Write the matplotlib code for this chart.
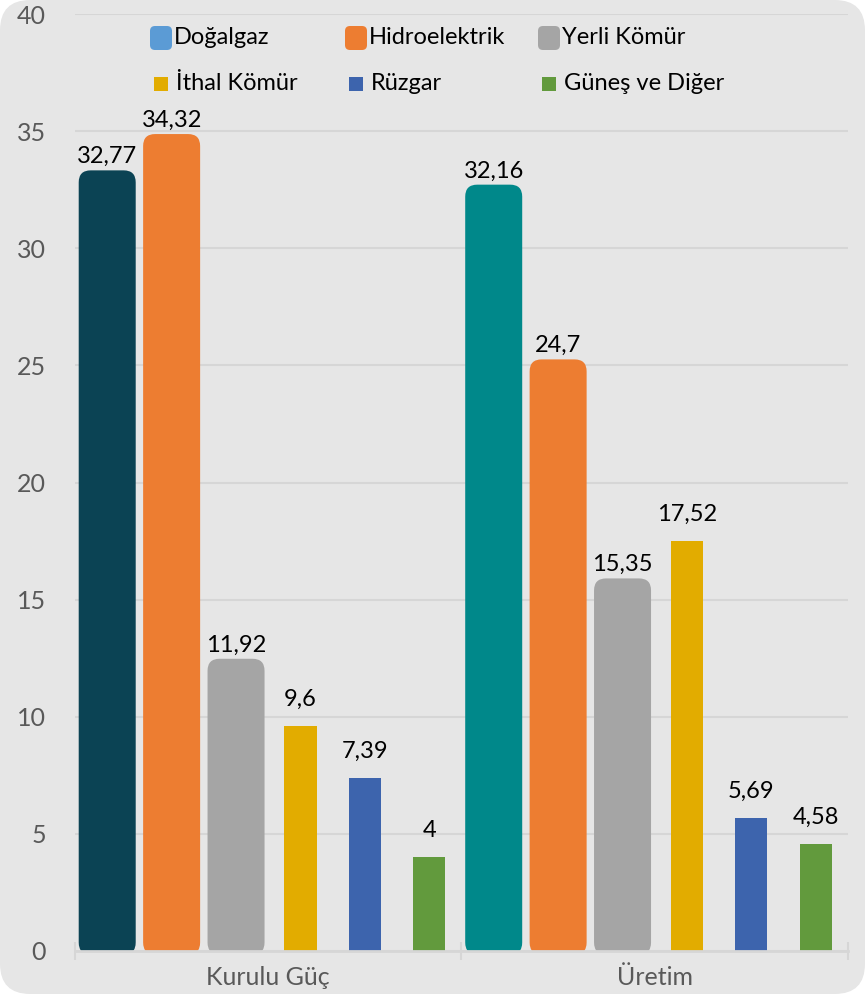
import matplotlib.pyplot as plt
import matplotlib.patches as mpatches
from matplotlib.patches import FancyBboxPatch, BoxStyle

# Data (percent shares)
groups = ['Kurulu Güç', 'Üretim']
sources = ['Doğalgaz', 'Hidroelektrik', 'Yerli Kömür', 'İthal Kömür', 'Rüzgar', 'Güneş ve Diğer']
kurulu_guc = [32.77, 34.32, 11.92, 9.6, 7.39, 4]
uretim = [32.16, 24.7, 15.35, 17.52, 5.69, 4.58]

# Styles
colors_g1 = ['#0b4354', '#ed7d31', '#a5a5a5', '#e2ac00', '#3d64ad', '#629a3d']
colors_g2 = ['#00888a', '#ed7d31', '#a5a5a5', '#e2ac00', '#3d64ad', '#629a3d']
legend_colors = ['#5b9bd5', '#ed7d31', '#a5a5a5', '#e2ac00', '#3d64ad', '#629a3d']
rounded = [True, True, True, False, False, False]

FONT = ['Lato', 'DejaVu Sans']
plt.rcParams['font.family'] = FONT

W, H = 865, 994
fig = plt.figure(figsize=(W / 100, H / 100), dpi=100)
fig.patch.set_facecolor('white')

# rounded grey card behind everything
card = FancyBboxPatch((0, 0), 1, 1, boxstyle=BoxStyle.Round(pad=0, rounding_size=0.035),
                      mutation_aspect=W / H, transform=fig.transFigure,
                      facecolor='#e6e6e6', edgecolor='none', zorder=-1)
fig.patches.append(card)

ax = fig.add_axes([75 / W, 1 - 951 / H, (848 - 75) / W, (951 - 14) / H])
ax.set_facecolor('none')

n = len(sources)
ax.set_xlim(-0.5, 2 * n - 0.5)
ax.set_ylim(0, 40)

# pixel scales for the rounded bars
px_x = (848 - 75) / (2 * n)
px_y = (951 - 14) / 40.0

for g, (vals, cols) in enumerate([(kurulu_guc, colors_g1), (uretim, colors_g2)]):
    for i, v in enumerate(vals):
        x = g * n + i
        if rounded[i]:
            half = 28.5 / px_x
            top = v + 13 / px_y
            bot = -3.5 / px_y
            r = 12 / px_x
            p = FancyBboxPatch((x - half, bot), 2 * half, top - bot,
                               boxstyle=BoxStyle.Round(pad=0, rounding_size=r),
                               mutation_aspect=(12 / px_y) / r,
                               facecolor=cols[i], edgecolor='none', zorder=2)
            ax.add_patch(p)
        else:
            ax.bar(x, v, width=0.5, color=cols[i], zorder=2)
        lbl = f'{v:g}'.replace('.', ',')
        ax.annotate(lbl, (x, v), xytext=(0, 14.5), textcoords='offset points',
                    ha='center', va='baseline', fontsize=17, color='black', zorder=3)

# grid and axes styling
ax.set_yticks(range(0, 41, 5))
ax.yaxis.grid(True, color='#d6d6d6', linewidth=1.5, zorder=0)
ax.set_axisbelow(True)
ax.tick_params(axis='y', length=0, pad=21, labelsize=18, labelcolor='#595959')
for s in ['left', 'right', 'top']:
    ax.spines[s].set_visible(False)
ax.spines['bottom'].set_color('#d6d6d6')
ax.spines['bottom'].set_linewidth(2)
ax.spines['bottom'].set_zorder(4)

ax.set_xticks([-0.5, n - 0.5, 2 * n - 0.5])
ax.set_xticklabels([])
ax.tick_params(axis='x', which='major', direction='inout', length=13, width=1.5, color='#d6d6d6')
ax.set_xticks([n / 2 - 0.5, n + n / 2 - 0.5], minor=True)
ax.set_xticklabels(groups, minor=True)
ax.tick_params(axis='x', which='minor', length=0, pad=11, labelsize=18, labelcolor='#595959')

# legend drawn by hand (two rows of three)
rows = [38, 84]
cols_x = [150, 345, 538]
for k, name in enumerate(sources):
    r, c = divmod(k, 3)
    cx, cy = cols_x[c], rows[r]
    if rounded[k]:
        w, h = 22, 24
        pch = FancyBboxPatch((cx / W, 1 - (cy + h / 2) / H), w / W, h / H,
                             boxstyle=BoxStyle.Round(pad=0, rounding_size=5 / W),
                             mutation_aspect=W / H, transform=fig.transFigure,
                             facecolor=legend_colors[k], edgecolor='none')
        tx = cx + w + 2
    else:
        s = 14
        pch = mpatches.Rectangle(((cx + 4) / W, 1 - (cy + s / 2) / H), s / W, s / H,
                                 transform=fig.transFigure, facecolor=legend_colors[k],
                                 edgecolor='none')
        tx = cx + 26
    fig.patches.append(pch)
    fig.text(tx / W, 1 - cy / H, name, ha='left', va='center', fontsize=17, color='black')

fig.savefig('out.png', dpi=100)
